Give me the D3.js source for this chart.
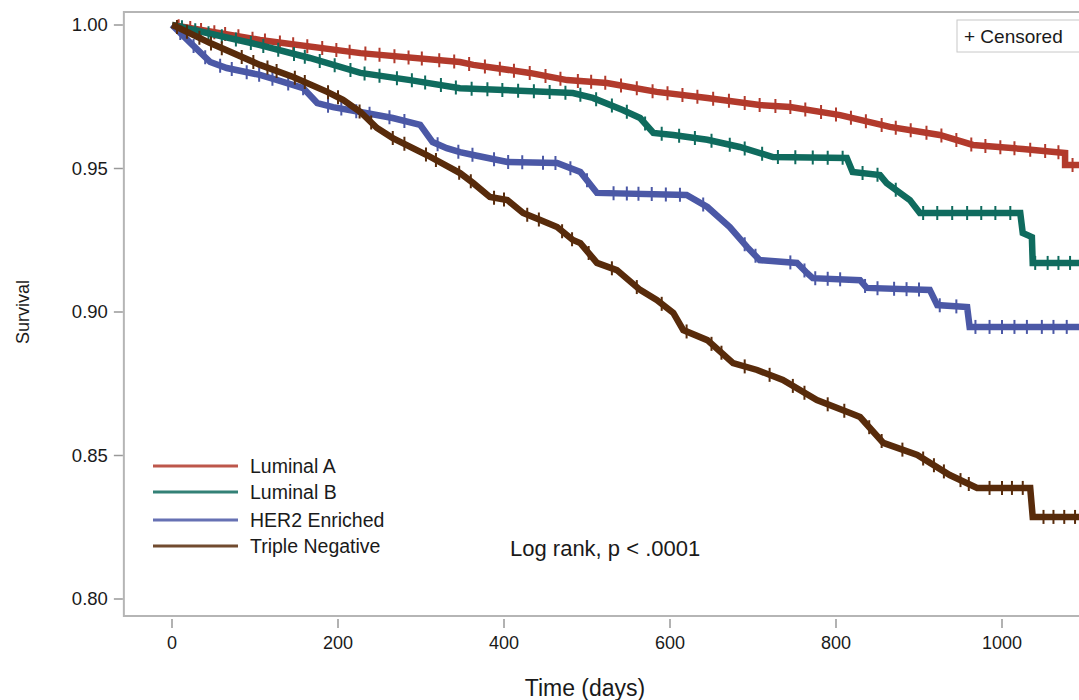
<!DOCTYPE html>
<html>
<head>
<meta charset="utf-8">
<script src="https://cdn.jsdelivr.net/npm/d3@7"></script>
<style>
  body { margin: 0; background: #fff; }
  text { font-family: "Liberation Sans", Arial, sans-serif; fill: #1a1a1a; }
</style>
</head>
<body>
<div id="chart"></div>
<script>
'use strict';

var width = 1079;
var height = 700;

// series names and colours
var groups = ['Luminal A', 'Luminal B', 'HER2 Enriched', 'Triple Negative'];
var colors = ['#b23a2c', '#0f6b5e', '#4b58a6', '#582b0b'];

// survival curves, [day, survival]
var lumA = [[0,1],[106,0.9948],[227,0.9902],[347,0.9871],[363,0.9861],[431,0.9833],[476,0.9808],[524,0.9798],[584,0.9767],[645,0.9746],[708,0.9721],[745,0.9714],[805,0.9686],[865,0.9645],[925,0.9617],[965,0.9582],[1025,0.9568],[1076,0.9554],[1076,0.9512],[1120,0.9512]];
var lumB = [[0,1],[106,0.993],[166,0.9885],[227,0.9833],[287,0.9808],[347,0.978],[483,0.9763],[507,0.9746],[543,0.9704],[564,0.9676],[580,0.9624],[604,0.9617],[645,0.96],[684,0.9575],[724,0.954],[813,0.9537],[820,0.9488],[853,0.9477],[861,0.9449],[877,0.9415],[889,0.939],[901,0.9345],[1022,0.9345],[1025,0.9275],[1036,0.9261],[1037,0.9171],[1120,0.9171]];
var her2 = [[0,1],[25,0.993],[46,0.9871],[66,0.985],[106,0.9826],[127,0.9808],[158,0.978],[175,0.9728],[194,0.9714],[227,0.9697],[266,0.9676],[299,0.9652],[314,0.9592],[331,0.9571],[347,0.9557],[363,0.9547],[404,0.9523],[464,0.9519],[492,0.9488],[512,0.9415],[620,0.9408],[645,0.9366],[672,0.9296],[693,0.9226],[708,0.9181],[753,0.9171],[765,0.9136],[772,0.9118],[829,0.9111],[837,0.9084],[913,0.9077],[922,0.9024],[958,0.9017],[961,0.8948],[1120,0.8948]];
var trip = [[0,1],[6,0.9993],[46,0.9937],[106,0.9861],[146,0.9819],[187,0.9767],[206,0.9739],[227,0.9697],[247,0.9641],[266,0.9606],[307,0.9547],[347,0.9484],[363,0.9449],[383,0.9401],[404,0.939],[423,0.9345],[443,0.9321],[464,0.9296],[483,0.9251],[492,0.924],[512,0.9171],[536,0.9146],[564,0.9077],[584,0.9042],[604,0.8997],[616,0.8937],[645,0.8902],[676,0.8822],[705,0.8798],[736,0.8763],[777,0.8693],[817,0.8648],[829,0.8634],[857,0.8544],[898,0.8502],[937,0.8432],[970,0.8387],[1034,0.8387],[1037,0.8286],[1120,0.8286]];
var curves = [lumA, lumB, her2, trip];

// censored times (days)
var censA = [8,22,35,51,64,80,97,112,130,146,163,181,198,214,233,250,268,285,301,322,340,358,377,395,412,431,450,468,489,505,522,541,560,579,597,615,633,652,671,690,708,727,745,763,782,800,818,836,855,872,890,909,927,945,963,980,998,1015,1034,1052,1068,1085,1098];
var censB = [12,28,44,60,77,95,110,128,147,160,178,196,215,232,250,271,289,305,324,342,361,380,398,417,436,455,474,492,511,530,548,570,590,611,630,650,672,690,711,730,751,772,790,808,832,850,872,905,922,940,958,975,992,1010,1040,1055,1068,1082,1096];
var censH = [10,26,40,58,72,90,105,121,140,158,188,204,222,238,262,280,320,345,362,388,405,422,447,462,480,500,532,548,562,578,595,612,640,690,703,745,762,775,790,805,835,850,870,885,900,925,945,968,985,1000,1015,1030,1048,1062,1078,1095];
var censT = [6,18,33,47,60,84,98,115,126,148,160,188,200,226,240,266,280,306,318,346,360,388,400,428,442,470,482,502,530,560,590,620,650,662,690,720,748,762,790,810,840,855,880,905,918,930,950,960,985,1000,1012,1025,1050,1062,1075,1088,1100];
var censors = [censA, censB, censH, censT];

var xTicks = [0, 200, 400, 600, 800, 1000];
var yTicks = [0.80, 0.85, 0.90, 0.95, 1.00];

var x = d3.scaleLinear().domain([0, 1000]).range([172, 1002]);
var y = d3.scaleLinear().domain([0.80, 1.00]).range([599, 25]);

var svg = d3.select('#chart')
    .append('svg')
    .attr('width', width)
    .attr('height', height);

var frameL = x(-58), frameR = x(1120), frameT = 12, frameB = 616;

svg.append('defs').append('clipPath').attr('id', 'clip')
    .append('rect')
    .attr('x', frameL).attr('y', frameT)
    .attr('width', frameR - frameL).attr('height', frameB - frameT);

// frame
svg.append('rect')
    .attr('x', frameL).attr('y', frameT)
    .attr('width', frameR - frameL).attr('height', frameB - frameT)
    .attr('fill', 'none')
    .attr('stroke', '#b5b5b5')
    .attr('stroke-width', 2);

// y axis
var yAxis = svg.append('g');
yAxis.selectAll('line').data(yTicks).enter().append('line')
    .attr('x1', frameL - 10).attr('x2', frameL - 1)
    .attr('y1', function(d){ return y(d); })
    .attr('y2', function(d){ return y(d); })
    .attr('stroke', '#999').attr('stroke-width', 1.5);
yAxis.selectAll('text').data(yTicks).enter().append('text')
    .attr('x', frameL - 16)
    .attr('y', function(d){ return y(d) + 6; })
    .attr('text-anchor', 'end')
    .style('font-size', '18.5px')
    .text(function(d){ return d3.format('.2f')(d); });

// x axis
var xAxis = svg.append('g');
xAxis.selectAll('line').data(xTicks).enter().append('line')
    .attr('x1', function(d){ return x(d); })
    .attr('x2', function(d){ return x(d); })
    .attr('y1', frameB + 3).attr('y2', frameB + 12)
    .attr('stroke', '#999').attr('stroke-width', 1.5);
xAxis.selectAll('text').data(xTicks).enter().append('text')
    .attr('x', function(d){ return x(d); })
    .attr('y', frameB + 33)
    .attr('text-anchor', 'middle')
    .style('font-size', '18px')
    .text(function(d){ return d; });

svg.append('text')
    .attr('x', 585).attr('y', 696)
    .attr('text-anchor', 'middle')
    .style('font-size', '23px')
    .text('Time (days)');

svg.append('text')
    .attr('transform', 'translate(29,' + 312 + ') rotate(-90)')
    .attr('text-anchor', 'middle')
    .style('font-size', '18px')
    .text('Survival');

// curves
var line = d3.line()
    .x(function(d){ return x(d[0]); })
    .y(function(d){ return y(d[1]); });

var plot = svg.append('g').attr('clip-path', 'url(#clip)');
var bis = d3.bisector(function(d){ return d[0]; }).right;

function survAt(c, t) {
    var i = Math.min(Math.max(bis(c, t), 1), c.length - 1);
    var a = c[i - 1], b = c[i];
    if (b[0] === a[0]) return b[1];
    return a[1] + (b[1] - a[1]) * (t - a[0]) / (b[0] - a[0]);
}

curves.forEach(function(c, i){
    plot.append('path')
        .datum(c)
        .attr('d', line)
        .attr('fill', 'none')
        .attr('stroke', colors[i])
        .attr('stroke-width', 6.5)
        .attr('stroke-linejoin', 'miter');

    plot.selectAll('.cens' + i)
        .data(censors[i])
        .enter()
        .append('line')
        .attr('class', 'cens' + i)
        .attr('x1', function(d){ return x(d); })
        .attr('x2', function(d){ return x(d); })
        .attr('y1', function(d){ return y(survAt(c, d)) - 7; })
        .attr('y2', function(d){ return y(survAt(c, d)) + 7; })
        .attr('stroke', colors[i])
        .attr('stroke-width', 2);
});

// legend
var legendY = [466, 492, 520, 546];
var legend = svg.selectAll('.legend')
    .data(groups)
    .enter()
    .append('g')
    .attr('class', 'legend')
    .attr('transform', function(d, i){
        return 'translate(153,' + legendY[i] + ')';
    });
legend.append('line')
    .attr('x1', 0).attr('x2', 85)
    .attr('stroke', function(d, i){ return colors[i]; })
    .attr('stroke-opacity', 0.85)
    .attr('stroke-width', 3);
legend.append('text')
    .attr('x', 97).attr('y', 7)
    .style('font-size', '19.5px')
    .text(function(d){ return d; });

svg.append('text')
    .attr('x', 510).attr('y', 556)
    .style('font-size', '22px')
    .text('Log rank, p < .0001');

// censored key
svg.append('rect')
    .attr('x', 957).attr('y', 20)
    .attr('width', 140).attr('height', 32)
    .attr('fill', '#fff')
    .attr('stroke', '#c8c8c8')
    .attr('stroke-width', 1);
svg.append('text')
    .attr('x', 964).attr('y', 43)
    .style('font-size', '19px')
    .text('+ Censored');
</script>
</body>
</html>
